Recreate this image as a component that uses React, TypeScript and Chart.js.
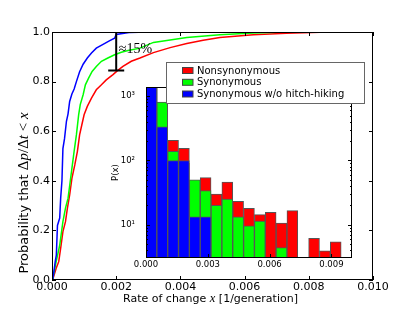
import React, { useEffect, useRef } from "react";
import { Chart, registerables } from "chart.js";

Chart.register(...registerables);

const SANS = "'DejaVu Sans', sans-serif";
const SERIF = "'Liberation Serif', 'DejaVu Serif', serif";

const RED = "#ff0000";
const GREEN = "#00ff00";
const BLUE = "#0000ff";

// ---- Main plot: cumulative distributions ----
const nonsynX = [0, 0.00003, 0.00013, 0.00021, 0.00027, 0.00034, 0.00042, 0.00048, 0.00055, 0.00062, 0.00071, 0.00079, 0.00086, 0.00093, 0.001, 0.0011, 0.00123, 0.00138, 0.00154, 0.00169, 0.0019, 0.00204, 0.00221, 0.00247, 0.00274, 0.00316, 0.00368, 0.0042, 0.00471, 0.00523, 0.00627, 0.0073, 0.00835, 0.00938, 0.01];
const nonsynY = [0, 0.005, 0.047, 0.074, 0.128, 0.195, 0.235, 0.29, 0.343, 0.41, 0.464, 0.518, 0.585, 0.626, 0.666, 0.7, 0.733, 0.767, 0.787, 0.807, 0.828, 0.844, 0.861, 0.882, 0.895, 0.917, 0.937, 0.954, 0.967, 0.978, 0.989, 0.995, 0.999, 1.0, 1.0];

const synX = [0, 0.00003, 0.00013, 0.00024, 0.00034, 0.00042, 0.0005, 0.00055, 0.00062, 0.00069, 0.00076, 0.00083, 0.00088, 0.00097, 0.00104, 0.00114, 0.00125, 0.00138, 0.00154, 0.00174, 0.00195, 0.00216, 0.00237, 0.00274, 0.00316, 0.0042, 0.00523, 0.00627, 0.0073, 0.01];
const synY = [0, 0.01, 0.074, 0.14, 0.235, 0.29, 0.33, 0.38, 0.45, 0.52, 0.585, 0.666, 0.707, 0.747, 0.787, 0.814, 0.841, 0.861, 0.882, 0.895, 0.908, 0.918, 0.925, 0.935, 0.958, 0.978, 0.989, 0.996, 1.0, 1.0];

const synNoHhX = [0, 0.00003, 0.00006, 0.0001, 0.000135, 0.00017, 0.00024, 0.00027, 0.00031, 0.00034, 0.00039, 0.00045, 0.0005, 0.00055, 0.00062, 0.00069, 0.00076, 0.00086, 0.00097, 0.0011, 0.00123, 0.00138, 0.00159, 0.0018, 0.00195, 0.002, 0.0024, 0.003, 0.01];
const synNoHhY = [0, 0.01, 0.034, 0.074, 0.1, 0.22, 0.25, 0.33, 0.4, 0.53, 0.57, 0.64, 0.67, 0.72, 0.75, 0.77, 0.8, 0.84, 0.87, 0.895, 0.915, 0.935, 0.95, 0.965, 0.975, 0.99, 0.998, 1.0, 1.0];

const mainXTicks = [0, 0.002, 0.004, 0.006, 0.008, 0.01];
const mainYTicks = [0, 0.2, 0.4, 0.6, 0.8, 1.0];

// gap annotation
const gapX = 0.002;
const gapTop = 1.0;
const gapBottom = 0.845;
const gapLabel = "≈15%";
const gapLabelX = 0.00208;
const gapLabelY = 0.917;

// ---- Inset: histograms ----
const binCenters = [0.000263, 0.000789, 0.001316, 0.001842, 0.002368, 0.002895, 0.003421, 0.003947, 0.004474, 0.005, 0.005526, 0.006053, 0.006579, 0.007105, 0.007632, 0.008158, 0.008684, 0.009211, 0.009737];
const nonsynCounts = [1100, 2000, 205, 154, 40, 54, 30, 46, 23, 18, 14.3, 15.5, 10.6, 16.5, 0, 6.1, 3.9, 5.4, 0];
const synCounts = [1300, 809, 138, 90, 50, 34, 20, 25, 13.2, 9.6, 11.4, 0, 4.4, 0, 0, 0, 0, 0, 0];
const synNoHhCounts = [1600, 334, 99, 99, 13.2, 13.2, 0, 0, 0, 0, 0, 0, 0, 0, 0, 0, 0, 0, 0];

const insetXTicks = [0, 0.003, 0.006, 0.009];
const insetYMajor = [10, 100, 1000];
const insetYMinor = [4, 5, 6, 7, 8, 9, 20, 30, 40, 50, 60, 70, 80, 90, 200, 300, 400, 500, 600, 700, 800, 900];
const insetYLabels: Record<number, string> = { 10: "10¹", 100: "10²", 1000: "10³" };
const insetYMin = 3.02;
const insetYMax = 1390;

const legendLabels = ["Nonsynonymous", "Synonymous", "Synonymous w/o hitch-hiking"];
const legendColors = [RED, GREEN, BLUE];

type Seg = { text: string; font: string };

function drawSegments(ctx: CanvasRenderingContext2D, segs: Seg[], cx: number, cy: number, rotate: boolean) {
  ctx.save();
  ctx.translate(cx, cy);
  if (rotate) ctx.rotate(-Math.PI / 2);
  ctx.textBaseline = "alphabetic";
  ctx.textAlign = "left";
  ctx.fillStyle = "#000";
  let total = 0;
  for (const s of segs) {
    ctx.font = s.font;
    total += ctx.measureText(s.text).width;
  }
  let x = -total / 2;
  for (const s of segs) {
    ctx.font = s.font;
    ctx.fillText(s.text, x, 0);
    x += ctx.measureText(s.text).width;
  }
  ctx.restore();
}

const mainDecor = {
  id: "mainDecor",
  afterDraw(chart: any) {
    const { ctx, chartArea: a, scales } = chart;
    const x = scales.x;
    const y = scales.y;
    ctx.save();
    ctx.strokeStyle = "#000";
    ctx.lineWidth = 1;
    ctx.strokeRect(a.left + 0.5, a.top + 0.5, a.right - a.left - 1, a.bottom - a.top - 1);
    ctx.beginPath();
    for (const v of mainXTicks) {
      const px = Math.round(x.getPixelForValue(v)) + 0.5;
      ctx.moveTo(px, a.bottom);
      ctx.lineTo(px, a.bottom - 4);
      ctx.moveTo(px, a.top);
      ctx.lineTo(px, a.top + 4);
    }
    for (const v of mainYTicks) {
      const py = Math.round(y.getPixelForValue(v)) + 0.5;
      ctx.moveTo(a.left, py);
      ctx.lineTo(a.left + 4, py);
      ctx.moveTo(a.right, py);
      ctx.lineTo(a.right - 4, py);
    }
    ctx.stroke();

    // gap annotation
    const gx = x.getPixelForValue(gapX);
    const gy1 = y.getPixelForValue(gapTop);
    const gy2 = y.getPixelForValue(gapBottom);
    ctx.lineWidth = 2;
    ctx.beginPath();
    ctx.moveTo(gx, gy1);
    ctx.lineTo(gx, gy2);
    ctx.moveTo(gx - 8, gy2);
    ctx.lineTo(gx + 8, gy2);
    ctx.stroke();
    ctx.fillStyle = "#000";
    ctx.font = `14px ${SERIF}`;
    ctx.textBaseline = "alphabetic";
    ctx.fillText(gapLabel, x.getPixelForValue(gapLabelX), y.getPixelForValue(gapLabelY));
    ctx.restore();

    // axis titles
    const sans = `13px ${SANS}`;
    const mu = `15px ${SERIF}`;
    const mi = `italic 15px ${SERIF}`;
    drawSegments(ctx, [
      { text: "Probability that ", font: sans },
      { text: "Δ", font: mu },
      { text: "p", font: mi },
      { text: "/", font: mu },
      { text: "Δ", font: mu },
      { text: "t", font: mi },
      { text: " < ", font: mu },
      { text: "x", font: mi },
    ], 28, 193, true);
    const xs = `11px ${SANS}`;
    drawSegments(ctx, [
      { text: "Rate of change ", font: xs },
      { text: "x", font: `italic 12.5px ${SERIF}` },
      { text: " [1/generation]", font: xs },
    ], (a.left + a.right) / 2 - 2, 302, false);
  },
};

const insetDecor = {
  id: "insetDecor",
  beforeDatasetsDraw(chart: any) {
    const { ctx, chartArea: a } = chart;
    ctx.save();
    ctx.fillStyle = "#fff";
    ctx.fillRect(a.left, a.top, a.right - a.left, a.bottom - a.top);
    ctx.restore();
  },
  afterDraw(chart: any) {
    const { ctx, chartArea: a, scales } = chart;
    const x = scales.x;
    const y = scales.y;
    ctx.save();
    ctx.strokeStyle = "#000";
    ctx.lineWidth = 1;
    ctx.strokeRect(a.left + 0.5, a.top + 0.5, a.right - a.left - 1, a.bottom - a.top - 1);
    ctx.beginPath();
    for (const v of insetXTicks) {
      const px = Math.round(x.getPixelForValue(v)) + 0.5;
      ctx.moveTo(px, a.bottom);
      ctx.lineTo(px, a.bottom - 4);
      ctx.moveTo(px, a.top);
      ctx.lineTo(px, a.top + 4);
    }
    for (const v of insetYMajor) {
      const py = Math.round(y.getPixelForValue(v)) + 0.5;
      ctx.moveTo(a.left, py);
      ctx.lineTo(a.left + 4, py);
      ctx.moveTo(a.right, py);
      ctx.lineTo(a.right - 4, py);
    }
    for (const v of insetYMinor) {
      const py = Math.round(y.getPixelForValue(v)) + 0.5;
      ctx.moveTo(a.left, py);
      ctx.lineTo(a.left + 2, py);
      ctx.moveTo(a.right, py);
      ctx.lineTo(a.right - 2, py);
    }
    ctx.stroke();

    // P(x) label
    ctx.save();
    ctx.translate(16, (a.top + a.bottom) / 2);
    ctx.rotate(-Math.PI / 2);
    ctx.font = `8.5px ${SANS}`;
    ctx.textAlign = "center";
    ctx.textBaseline = "middle";
    ctx.fillStyle = "#000";
    ctx.fillText("P(x)", 0, 0);
    ctx.restore();

    // legend
    const lx = 66, ly = 7, lw = 199, lh = 42;
    ctx.fillStyle = "#fff";
    ctx.fillRect(lx, ly, lw, lh);
    ctx.strokeStyle = "#666";
    ctx.strokeRect(lx + 0.5, ly + 0.5, lw - 1, lh - 1);
    const rows = [15.5, 27.3, 39];
    ctx.font = `10px ${SANS}`;
    ctx.textBaseline = "middle";
    ctx.textAlign = "left";
    legendLabels.forEach((lab, i) => {
      ctx.fillStyle = legendColors[i];
      ctx.fillRect(82.5, rows[i] - 3, 10.5, 6);
      ctx.strokeStyle = "#444";
      ctx.strokeRect(82.5, rows[i] - 3, 10.5, 6);
      ctx.fillStyle = "#000";
      ctx.fillText(lab, 97, rows[i] + 0.5);
    });
    ctx.restore();
  },
};

function lineDs(label: string, xs: number[], ys: number[], color: string) {
  return {
    label,
    data: xs.map((v, i) => ({ x: v, y: ys[i] })),
    borderColor: color,
    backgroundColor: color,
    borderWidth: 1.5,
    pointRadius: 0,
    fill: false,
    tension: 0,
  };
}

function barDs(label: string, counts: number[], color: any) {
  return {
    label,
    data: binCenters.map((c, i) => ({ x: c, y: counts[i] > 0 ? counts[i] : null })),
    backgroundColor: color,
    borderColor: "#555",
    borderWidth: 1,
    borderSkipped: false,
    grouped: false,
    barPercentage: 1,
    categoryPercentage: 1,
  };
}

export default function App() {
  const mainRef = useRef<HTMLCanvasElement>(null);
  const insetRef = useRef<HTMLCanvasElement>(null);

  useEffect(() => {
    const tickFont = { family: SANS, size: 11 };
    const main = new Chart(mainRef.current as HTMLCanvasElement, {
      type: "line",
      data: {
        datasets: [
          lineDs("Synonymous w/o hitch-hiking", synNoHhX, synNoHhY, BLUE),
          lineDs("Synonymous", synX, synY, GREEN),
          lineDs("Nonsynonymous", nonsynX, nonsynY, RED),
        ],
      },
      options: {
        responsive: false,
        animation: false,
        devicePixelRatio: 1,
        layout: { padding: { left: 0, top: 32, right: 42, bottom: 0 } },
        plugins: { legend: { display: false }, tooltip: { enabled: false } },
        scales: {
          x: {
            type: "linear",
            min: 0,
            max: 0.01,
            afterBuildTicks: (s: any) => { s.ticks = mainXTicks.map((v) => ({ value: v })); },
            afterFit: (s: any) => { s.height = 32; },
            grid: { display: false, drawTicks: false },
            border: { display: false },
            ticks: { padding: 1, color: "#000", font: tickFont, maxRotation: 0, autoSkip: false, callback: (v: any) => Number(v).toFixed(3) },
          },
          y: {
            type: "linear",
            min: 0,
            max: 1,
            afterBuildTicks: (s: any) => { s.ticks = mainYTicks.map((v) => ({ value: v })); },
            afterFit: (s: any) => { s.width = 52; },
            grid: { display: false, drawTicks: false },
            border: { display: false },
            ticks: { padding: 2, color: "#000", font: tickFont, autoSkip: false, callback: (v: any) => Number(v).toFixed(1) },
          },
        },
      } as any,
      plugins: [mainDecor],
    });

    const inset = new Chart(insetRef.current as HTMLCanvasElement, {
      type: "bar",
      data: {
        datasets: [
          barDs("Synonymous w/o hitch-hiking", synNoHhCounts, BLUE),
          barDs("Synonymous", synCounts, GREEN),
          barDs("Nonsynonymous", nonsynCounts, (c: any) => (c.dataIndex === 1 ? "#ffffff" : RED)),
        ],
      },
      options: {
        responsive: false,
        animation: false,
        devicePixelRatio: 1,
        layout: { padding: { left: 0, top: 32, right: 28, bottom: 0 } },
        plugins: { legend: { display: false }, tooltip: { enabled: false } },
        scales: {
          x: {
            type: "linear",
            offset: false,
            min: 0,
            max: 0.01,
            afterBuildTicks: (s: any) => { s.ticks = insetXTicks.map((v) => ({ value: v })); },
            afterFit: (s: any) => { s.height = 17; },
            grid: { display: false, drawTicks: false, offset: false },
            border: { display: false },
            ticks: { padding: 2, color: "#000", font: { family: SANS, size: 8.5 }, maxRotation: 0, autoSkip: false, callback: (v: any) => Number(v).toFixed(3) },
          },
          y: {
            type: "logarithmic",
            min: insetYMin,
            max: insetYMax,
            afterBuildTicks: (s: any) => { s.ticks = insetYMajor.map((v) => ({ value: v })); },
            afterFit: (s: any) => { s.width = 46; },
            grid: { display: false, drawTicks: false },
            border: { display: false },
            ticks: { padding: 11, color: "#000", font: { family: SANS, size: 8.5 }, autoSkip: false, callback: (v: any) => insetYLabels[Math.round(Number(v))] || "" },
          },
        },
      } as any,
      plugins: [insetDecor],
    });

    return () => {
      main.destroy();
      inset.destroy();
    };
  }, []);

  return (
    <div style={{ position: "absolute", left: 0, top: 0, width: 415, height: 312, background: "#fff" }}>
      <canvas ref={mainRef} width={415} height={312} style={{ position: "absolute", left: 0, top: 0 }} />
      <canvas ref={insetRef} width={280} height={220} style={{ position: "absolute", left: 100, top: 55 }} />
    </div>
  );
}
